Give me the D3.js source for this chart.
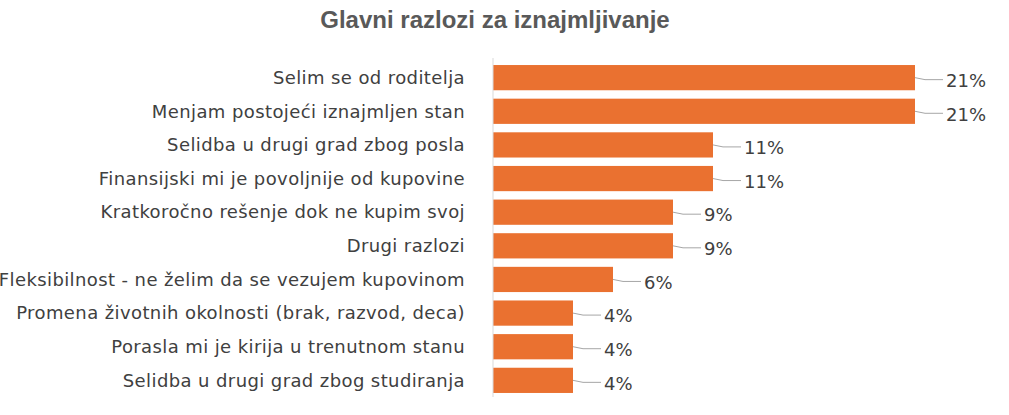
<!DOCTYPE html>
<html>
<head>
<meta charset="utf-8">
<script src="https://cdn.jsdelivr.net/npm/d3@7"></script>
<style>
body { margin: 0; background: #fff; }
text { font-family: "DejaVu Sans", Arial, sans-serif; }
</style>
</head>
<body>
<div id="chart"></div>
<script>
var categories = [
  "Selim se od roditelja",
  "Menjam postojeći iznajmljen stan",
  "Selidba u drugi grad zbog posla",
  "Finansijski mi je povoljnije od kupovine",
  "Kratkoročno rešenje dok ne kupim svoj",
  "Drugi razlozi",
  "Fleksibilnost - ne želim da se vezujem kupovinom",
  "Promena životnih okolnosti (brak, razvod, deca)",
  "Porasla mi je kirija u trenutnom stanu",
  "Selidba u drugi grad zbog studiranja"
];
var values = [21.1, 21.1, 11, 11, 9, 9, 6, 4, 4, 4];
var valueLabels = ["21%", "21%", "11%", "11%", "9%", "9%", "6%", "4%", "4%", "4%"];

var width = 1009, height = 415;
var svg = d3.select("#chart").append("svg").attr("width", width).attr("height", height);

svg.append("text")
  .attr("x", 495).attr("y", 28)
  .attr("text-anchor", "middle")
  .style("font-family", "'Liberation Sans', Arial, sans-serif")
  .style("font-size", "24px").style("font-weight", "bold").style("fill", "#595959")
  .text("Glavni razlozi za iznajmljivanje");

var x = d3.scaleLinear().domain([0, 25]).range([493, 993]);
var y = d3.scaleBand().domain(categories).range([61, 397]).paddingInner(0.25).paddingOuter(0.12);

svg.selectAll("rect.bar").data(values).enter().append("rect")
  .attr("class", "bar")
  .attr("x", x(0))
  .attr("y", function(d, i) { return y(categories[i]); })
  .attr("width", function(d) { return x(d) - x(0); })
  .attr("height", y.bandwidth())
  .style("fill", "#ea7130");

svg.append("line")
  .attr("x1", x(0)).attr("x2", x(0)).attr("y1", 58).attr("y2", 397)
  .style("stroke", "#d9d9d9").style("stroke-width", 1);

svg.selectAll("text.cat").data(categories).enter().append("text")
  .attr("class", "cat")
  .attr("x", 465)
  .attr("y", function(d) { return y(d) + y.bandwidth() / 2; })
  .attr("dy", "0.35em")
  .attr("text-anchor", "end")
  .style("font-size", "18px").style("letter-spacing", "0.4px").style("fill", "#404040")
  .text(function(d) { return d; });

// leader lines + value labels
svg.selectAll("path.lead").data(values).enter().append("path")
  .attr("class", "lead")
  .attr("d", function(d, i) {
    var x0 = x(d), yc = y(categories[i]) + y.bandwidth() / 2;
    return "M" + x0 + "," + yc + " L" + (x0 + 10) + "," + (yc + 2) + " L" + (x0 + 28) + "," + (yc + 2);
  })
  .style("fill", "none").style("stroke", "#a6a6a6").style("stroke-width", 1);

svg.selectAll("text.val").data(values).enter().append("text")
  .attr("class", "val")
  .attr("x", function(d) { return x(d) + 31; })
  .attr("y", function(d, i) { return y(categories[i]) + y.bandwidth() / 2 + 3; })
  .attr("dy", "0.35em")
  .style("font-size", "18px").style("fill", "#404040")
  .text(function(d, i) { return valueLabels[i]; });
</script>
</body>
</html>
